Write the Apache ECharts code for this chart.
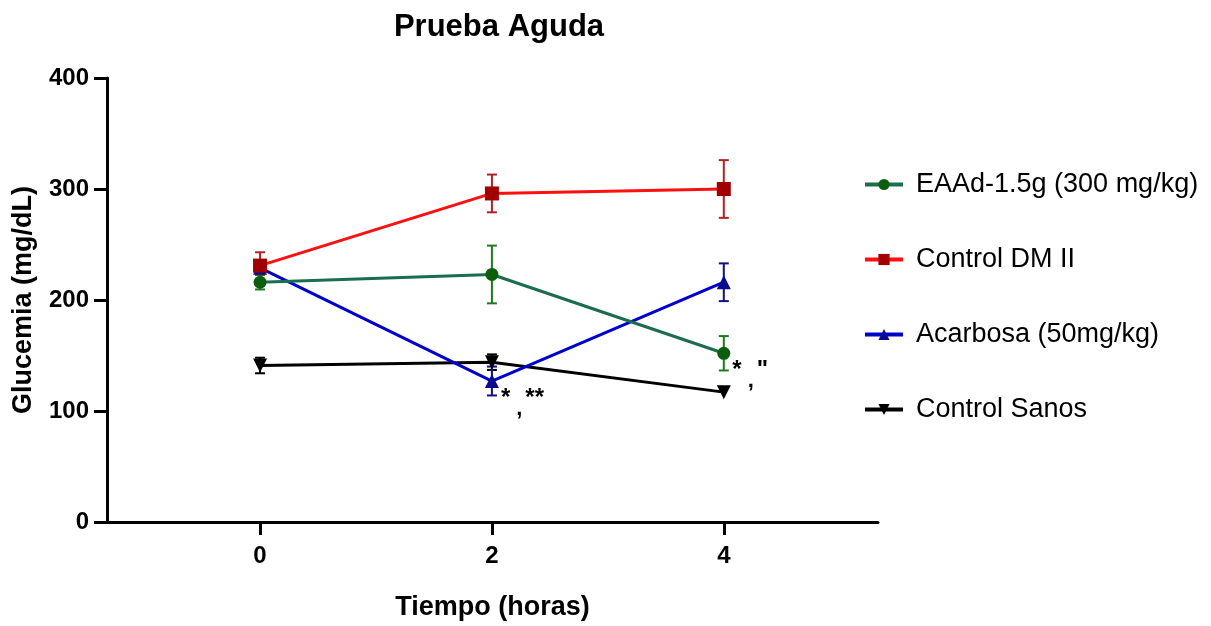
<!DOCTYPE html>
<html>
<head>
<meta charset="utf-8">
<script src="https://cdn.jsdelivr.net/npm/echarts@6/dist/echarts.min.js"></script>
<style>
  html, body { margin: 0; padding: 0; background: #fff; }
  #chart { width: 1211px; height: 626px; }
</style>
</head>
<body>
<div id="chart"></div>
<script>
const hours = [0, 2, 4]

const eaadMean = [216, 223, 152]
const eaadErr = [6.5, 26, 15.5]
const dmMean = [231, 296, 300]
const dmErr = [12, 17, 26]
const acarMean = [229, 127, 216]
const acarErr = [0, 13, 17]
const sanosMean = [141, 144, 117]
const sanosErr = [7, 7, 0]

// significance marks: star part, comma, star part
const acarNotes = ['', ['*', '**'], '']
const eaadNotes = ['', '', ['*', '"']]

const yTicks = [0, 100, 200, 300, 400]
const xTicks = [0, 2, 4]

const font = 'Arial, "Liberation Sans", sans-serif'

function points(mean, notes) {
  return hours.map((h, i) => {
    const item = { value: [h, mean[i]] }
    if (notes && notes[i]) {
      const [a, b] = notes[i]
      item.label = {
        show: true,
        formatter: '{s|' + a + '}{c|,}{s|' + b + '}',
        position: 'right',
        offset: [-3, 17],
        color: '#000',
        fontFamily: font,
        rich: {
          s: { fontSize: 24, fontWeight: 'bold', color: '#000', fontFamily: font, padding: [0, 3, 0, 0] },
          c: { fontSize: 22, fontWeight: 'bold', color: '#000', fontFamily: font, padding: [22, 3, 0, 3] }
        }
      }
    }
    return item
  })
}

function errBars(name, mean, err, color) {
  return {
    name: name + ' err',
    type: 'custom',
    silent: true,
    z: 1,
    data: hours.map((h, i) => [h, mean[i] - err[i], mean[i] + err[i]]),
    renderItem(params, api) {
      if (api.value(2) - api.value(1) <= 0) return null
      const lo = api.coord([api.value(0), api.value(1)])
      const hi = api.coord([api.value(0), api.value(2)])
      const w = 5
      const style = { stroke: color, lineWidth: 2 }
      return {
        type: 'group',
        children: [
          { type: 'line', shape: { x1: lo[0], y1: lo[1], x2: hi[0], y2: hi[1] }, style },
          { type: 'line', shape: { x1: lo[0] - w, y1: lo[1], x2: lo[0] + w, y2: lo[1] }, style },
          { type: 'line', shape: { x1: hi[0] - w, y1: hi[1], x2: hi[0] + w, y2: hi[1] }, style }
        ]
      }
    }
  }
}

function lineSeries(name, mean, notes, lineColor, markColor, symbol, size, z) {
  return {
    name,
    type: 'line',
    z,
    data: points(mean, notes),
    symbol,
    symbolSize: size,
    lineStyle: { color: lineColor, width: 3 },
    itemStyle: { color: markColor },
    color: lineColor,
    emphasis: { disabled: true }
  }
}

const chart = echarts.init(document.getElementById('chart'), null, { renderer: 'canvas' })

const option = {
  animation: false,
  title: {
    text: 'Prueba Aguda',
    left: 494,
    textAlign: 'center',
    top: 7,
    textStyle: { fontSize: 31, fontWeight: 'bold', color: '#000', fontFamily: font }
  },
  grid: { left: 107, right: 333, top: 78, bottom: 104 },
  legend: {
    orient: 'vertical',
    left: 858,
    top: 166,
    itemGap: 48,
    itemWidth: 38,
    itemHeight: 14,
    lineStyle: { width: 4 },
    textStyle: { fontSize: 27, color: '#000', fontFamily: font, padding: [0, 0, 0, 8] },
    data: ['EAAd-1.5g (300 mg/kg)', 'Control DM II', 'Acarbosa (50mg/kg)', 'Control Sanos']
  },
  xAxis: {
    type: 'value',
    min: -1.32,
    max: 5.33,
    name: 'Tiempo (horas)',
    nameLocation: 'middle',
    nameGap: 72,
    nameTextStyle: { fontSize: 27, fontWeight: 'bold', color: '#000', fontFamily: font },
    splitLine: { show: false },
    axisLine: { onZero: false, lineStyle: { color: '#000', width: 3 } },
    axisTick: { customValues: xTicks, length: 13, lineStyle: { color: '#000', width: 3 } },
    axisLabel: {
      customValues: xTicks,
      fontSize: 24, fontWeight: 'bold', color: '#000', fontFamily: font, margin: 22
    }
  },
  yAxis: {
    type: 'value',
    min: 0,
    max: 400,
    interval: 100,
    name: 'Glucemia (mg/dL)',
    nameLocation: 'middle',
    nameGap: 70,
    nameTextStyle: { fontSize: 27, fontWeight: 'bold', color: '#000', fontFamily: font },
    splitLine: { show: false },
    axisLine: { show: true, onZero: false, lineStyle: { color: '#000', width: 3 } },
    axisTick: { show: true, length: 13, lineStyle: { color: '#000', width: 3 } },
    axisLabel: {
      formatter: v => (yTicks.includes(v) ? String(v) : ''),
      fontSize: 24, fontWeight: 'bold', color: '#000', fontFamily: font, margin: 18
    }
  },
  series: [
    errBars('sanos', sanosMean, sanosErr, '#000'),
    errBars('acar', acarMean, acarErr, '#10108a'),
    errBars('eaad', eaadMean, eaadErr, '#1f7a1f'),
    errBars('dm', dmMean, dmErr, '#b22222'),
    lineSeries('Control Sanos', sanosMean, null, '#000', '#000', 'triangle', 14, 2),
    lineSeries('Acarbosa (50mg/kg)', acarMean, acarNotes, '#0000cc', '#0a0a8c', 'triangle', 14, 3),
    lineSeries('EAAd-1.5g (300 mg/kg)', eaadMean, eaadNotes, '#1a6e4e', '#0b5e0b', 'circle', 13, 4),
    lineSeries('Control DM II', dmMean, null, '#ff1010', '#a00000', 'rect', 14, 5)
  ]
}
// inverted triangle for Control Sanos
option.series[4].symbolRotate = 180

chart.setOption(option)
</script>
</body>
</html>
